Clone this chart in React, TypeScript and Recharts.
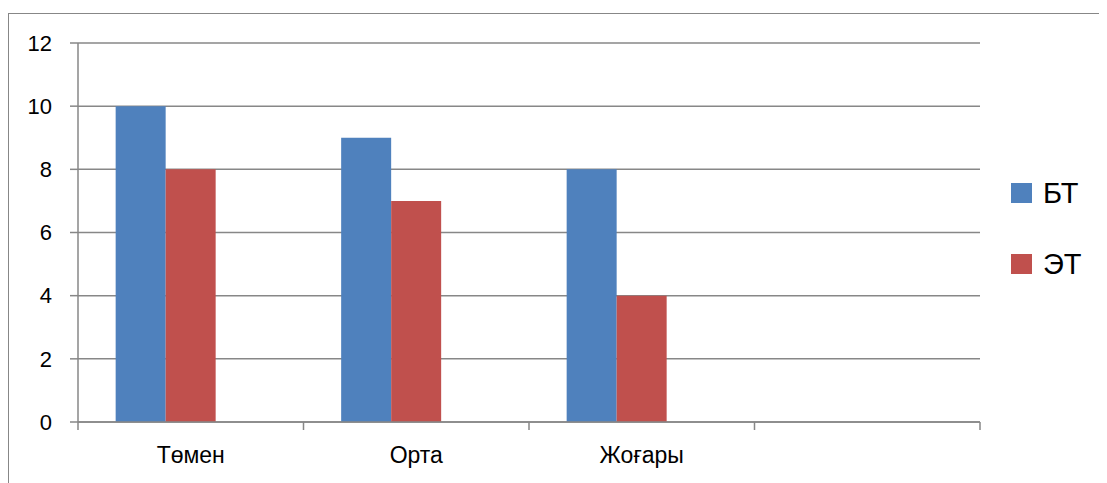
import React from "react";
import {
  BarChart,
  Bar,
  XAxis,
  YAxis,
  CartesianGrid,
  Legend,
} from "recharts";

const categories = ["Төмен", "Орта", "Жоғары", ""];
const btValues: (number | null)[] = [10, 9, 8, null];
const etValues: (number | null)[] = [8, 7, 4, null];
const spacerValues: (number | null)[] = [null, null, null, null];
const yTicks = [0, 2, 4, 6, 8, 10, 12];
const seriesNames = ["БТ", "ЭТ"];

const data = categories.map((name, i) => ({
  name,
  bt: btValues[i],
  et: etValues[i],
  spacer: spacerValues[i],
}));

const FONT = "'Liberation Sans', Arial, sans-serif";
const GRID = "#878787";

function CategoryTick(props: any) {
  const { x, y, payload, index } = props;
  const half = payload && typeof payload.offset === "number" ? payload.offset : 0;
  const isLast = index === categories.length - 1;
  return (
    <g>
      <line x1={x - half} x2={x - half} y1={y} y2={y + 8} stroke={GRID} strokeWidth={1.5} />
      {isLast && (
        <line x1={x + half} x2={x + half} y1={y} y2={y + 8} stroke={GRID} strokeWidth={1.5} />
      )}
      <text
        x={x}
        y={y + 41}
        textAnchor="middle"
        fontSize={23}
        fontFamily={FONT}
        fill="#000"
      >
        {payload.value}
      </text>
    </g>
  );
}

function LegendContent(props: any) {
  const { payload } = props;
  const items = (payload || []).filter((p: any) => p.type !== "none" && p.value);
  return (
    <div style={{ fontFamily: FONT }}>
      {items.map((p: any, i: number) => (
        <div
          key={i}
          style={{
            display: "flex",
            alignItems: "center",
            height: 30,
            marginBottom: i === 0 ? 41 : 0,
          }}
        >
          <div style={{ width: 21, height: 20, background: p.color, marginRight: 11 }} />
          <span style={{ fontSize: 29, color: "#000", lineHeight: "30px" }}>{p.value}</span>
        </div>
      ))}
    </div>
  );
}

export default function App() {
  return (
    <div style={{ position: "relative", width: 1099, height: 475, overflow: "hidden" }}>
      <div
        style={{
          position: "absolute",
          left: 0,
          top: 5,
          width: 1200,
          height: 600,
          borderLeft: `1.5px solid ${GRID}`,
          borderTop: `1.5px solid ${GRID}`,
          boxSizing: "border-box",
        }}
      />
      <BarChart
        width={1099}
        height={475}
        data={data}
        margin={{ top: 35, right: 127, left: 0, bottom: 0 }}
        barCategoryGap="16.7%"
        barGap={0}
        style={{ position: "absolute", left: 0, top: 0 }}
      >
        <CartesianGrid horizontal vertical={false} stroke={GRID} strokeWidth={1.5} />
        <XAxis
          dataKey="name"
          height={61}
          interval={0}
          tickLine={false}
          tickSize={0}
          tickMargin={0}
          axisLine={{ stroke: GRID, strokeWidth: 1.5 }}
          tick={<CategoryTick />}
        />
        <YAxis
          width={70}
          domain={[0, 12]}
          ticks={yTicks}
          interval={0}
          tickSize={8}
          tickMargin={18}
          axisLine={{ stroke: GRID, strokeWidth: 1.5 }}
          tickLine={{ stroke: GRID, strokeWidth: 1.5 }}
          tick={{ fontSize: 22, fontFamily: FONT, fill: "#000" }}
        />
        <Legend
          layout="vertical"
          align="center"
          verticalAlign="middle"
          content={<LegendContent />}
          wrapperStyle={{ position: "absolute", left: 1003, top: 170, width: 90 }}
        />
        <Bar dataKey="bt" name={seriesNames[0]} fill="#4F81BD" isAnimationActive={false} />
        <Bar dataKey="et" name={seriesNames[1]} fill="#C0504D" isAnimationActive={false} />
        <Bar dataKey="spacer" name="" fill="#9BBB59" legendType="none" isAnimationActive={false} />
      </BarChart>
    </div>
  );
}
